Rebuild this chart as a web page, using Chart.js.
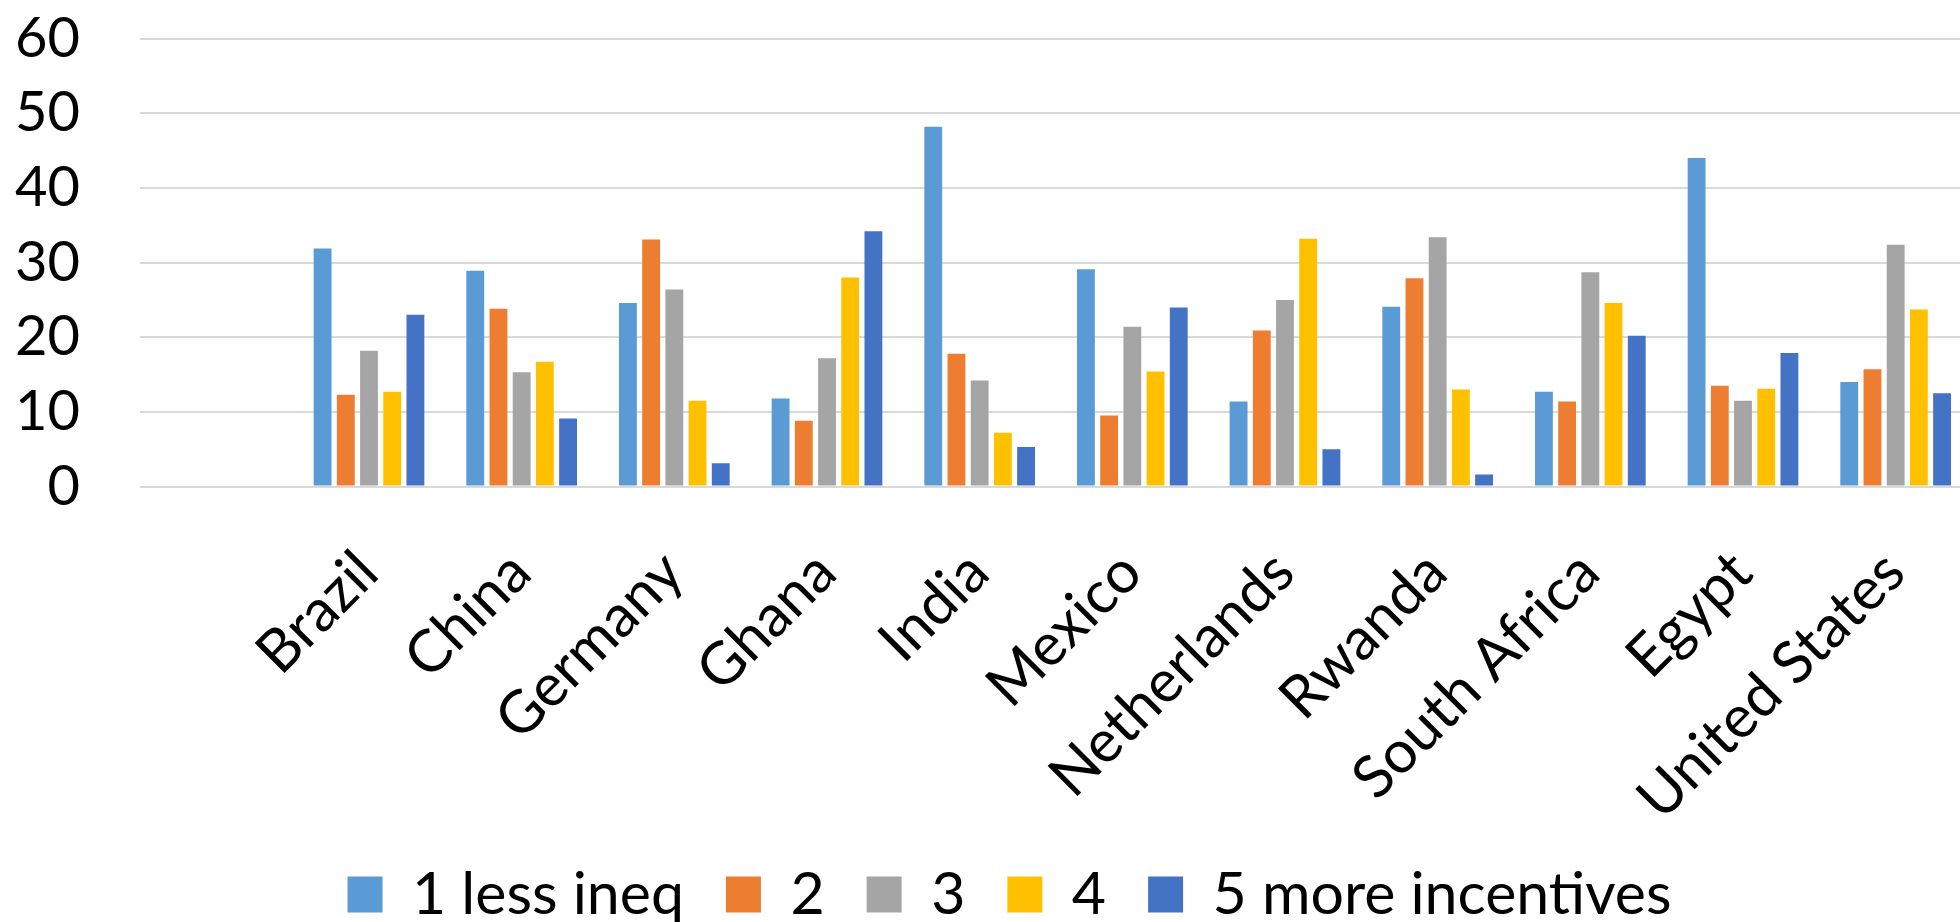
<!DOCTYPE html>
<html>
<head>
<meta charset="utf-8">
<script src="https://cdn.jsdelivr.net/npm/chart.js@4.4.1/dist/chart.umd.min.js"></script>
<style>
  html, body { margin: 0; padding: 0; background: #ffffff; overflow: hidden; }
  #wrap { position: absolute; left: 0; top: 0; width: 2020px; height: 934px; }
</style>
</head>
<body>
<div id="wrap"><canvas id="chart" width="2020" height="934"></canvas></div>
<script>
// Countries along the x axis (the first slot is an empty category)
const countries = ['', 'Brazil', 'China', 'Germany', 'Ghana', 'India', 'Mexico',
  'Netherlands', 'Rwanda', 'South Africa', 'Egypt', 'United States'];

// Share of answers per scale point, by country
const lessIneq       = [null, 31.9, 28.9, 24.6, 11.8, 48.2, 29.1, 11.4, 24.1, 12.7, 44.0, 14.0];
const point2         = [null, 12.3, 23.8, 33.1,  8.8, 17.8,  9.5, 20.9, 27.9, 11.4, 13.5, 15.7];
const point3         = [null, 18.2, 15.3, 26.4, 17.2, 14.2, 21.4, 25.0, 33.4, 28.7, 11.5, 32.4];
const point4         = [null, 12.7, 16.7, 11.5, 28.0,  7.2, 15.4, 33.2, 13.0, 24.6, 13.1, 23.7];
const moreIncentives = [null, 23.0,  9.1,  3.1, 34.2,  5.3, 24.0,  5.0,  1.6, 20.2, 17.9, 12.5];

const seriesNames = ['1 less ineq', '2', '3', '4', '5 more incentives'];
const seriesColors = ['#5B9BD5', '#ED7D31', '#A5A5A5', '#FFC000', '#4472C4'];
const yTicks = [0, 10, 20, 30, 40, 50, 60];

const FONT = 'Lato, "Open Sans", "Noto Sans", sans-serif';

// Centres the legend row on the whole chart frame instead of the padded box
const legendShift = {
  id: 'legendShift',
  afterLayout(chart) {
    const lg = chart.legend;
    if (lg) { lg.left += 23.5; lg.right += 23.5; }
  }
};

function draw() {
  const values = [lessIneq, point2, point3, point4, moreIncentives];
  const datasets = values.map((data, i) => ({
    label: seriesNames[i],
    data: data,
    backgroundColor: seriesColors[i],
    borderWidth: 0,
    barPercentage: 0.77,
    categoryPercentage: 0.76
  }));

  new Chart(document.getElementById('chart'), {
    type: 'bar',
    data: { labels: countries, datasets: datasets },
    plugins: [legendShift],
    options: {
      responsive: false,
      animation: false,
      devicePixelRatio: 1,
      layout: { padding: { top: 38.7, right: 48, bottom: 0, left: 0 } },
      plugins: {
        tooltip: { enabled: false },
        legend: {
          position: 'bottom',
          labels: {
            boxWidth: 35,
            boxHeight: 36,
            padding: 42,
            color: '#000000',
            font: { family: FONT, size: 59 }
          }
        }
      },
      scales: {
        x: {
          grid: { display: false, drawTicks: false },
          border: { display: false },
          ticks: {
            autoSkip: false,
            minRotation: 45,
            maxRotation: 45,
            padding: 51,
            labelOffset: -1,
            color: '#000000',
            font: { family: FONT, size: 59 }
          },
          afterFit: (scale) => { scale.height = 336.5; scale.paddingRight = 0; }
        },
        y: {
          min: yTicks[0],
          max: yTicks[yTicks.length - 1],
          afterBuildTicks: (scale) => { scale.ticks = yTicks.map(v => ({ value: v })); },
          grid: { color: '#d9d9d9', lineWidth: 2, drawTicks: false },
          border: { display: false },
          ticks: {
            autoSkip: false,
            padding: 60,
            color: '#000000',
            font: { family: FONT, size: 56 }
          },
          afterFit: (scale) => {
            scale.width = 140;
            scale.paddingTop = 0;
            scale.paddingBottom = 0;
          }
        }
      }
    }
  });
}

if (document.fonts && document.fonts.load) {
  document.fonts.load('56px Lato').then(draw, draw);
} else {
  draw();
}
</script>
</body>
</html>
